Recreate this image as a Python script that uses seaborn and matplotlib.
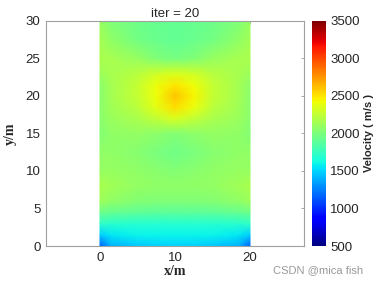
import numpy as np
import matplotlib
matplotlib.use("Agg")
import matplotlib.pyplot as plt
import seaborn as sns

# ============================
# DATA (velocity, m/s)
# ============================
X_NODES = [0, 1.5, 5, 7.5, 10, 12.5, 15, 18.5, 20]
Y_NODES = [0, 1.5, 3, 4.5, 6, 8, 10, 12.5, 15, 17, 18.5, 20, 21.5, 23, 25, 27.5, 30]

VEL = [
    [1150, 1400, 1470, 1490, 1490, 1490, 1470, 1400, 1150],  # y = 0
    [1480, 1560, 1590, 1600, 1600, 1600, 1590, 1560, 1480],  # y = 1.5
    [1720, 1700, 1690, 1690, 1690, 1690, 1690, 1700, 1720],  # y = 3
    [1950, 1920, 1900, 1890, 1890, 1890, 1900, 1920, 1950],  # y = 4.5
    [2120, 2080, 2030, 2020, 2020, 2020, 2030, 2080, 2120],  # y = 6
    [2170, 2130, 2090, 2080, 2080, 2080, 2090, 2130, 2170],  # y = 8
    [2100, 2100, 2080, 2050, 2030, 2050, 2080, 2100, 2100],  # y = 10
    [2080, 2080, 2040, 1990, 1960, 1990, 2040, 2080, 2080],  # y = 12.5
    [2030, 2080, 2090, 2060, 2030, 2060, 2090, 2080, 2030],  # y = 15
    [2050, 2110, 2170, 2250, 2330, 2250, 2170, 2110, 2050],  # y = 17
    [2050, 2130, 2230, 2380, 2520, 2400, 2230, 2130, 2050],  # y = 18.5
    [2050, 2150, 2260, 2420, 2600, 2450, 2260, 2150, 2050],  # y = 20
    [2070, 2150, 2260, 2400, 2500, 2420, 2260, 2150, 2070],  # y = 21.5
    [2120, 2160, 2220, 2300, 2330, 2300, 2220, 2160, 2120],  # y = 23
    [2170, 2160, 2100, 2020, 1980, 2020, 2100, 2160, 2170],  # y = 25
    [2150, 2080, 1970, 1930, 1910, 1930, 1970, 2080, 2150],  # y = 27.5
    [2100, 2020, 1950, 1920, 1910, 1920, 1950, 2020, 2100],  # y = 30
]

VMIN, VMAX = 500, 3500
CBAR_TICKS = [500, 1000, 1500, 2000, 2500, 3000, 3500]
X_TICKS = [0, 10, 20]
Y_TICKS = [0, 5, 10, 15, 20, 25, 30]
TITLE = "iter = 20"

# ============================
# PLOT
# ============================
sns.set_theme(style="white")
plt.rcParams["font.family"] = ["Liberation Sans", "DejaVu Sans"]

fig = plt.figure(figsize=(3.78, 2.84), dpi=100)
ax = fig.add_axes([0.1217, 0.1338, 0.6825, 0.7923])
cax = fig.add_axes([0.8254, 0.1338, 0.037, 0.7923])

cmap = matplotlib.colormaps["jet"]
xx, yy = np.meshgrid(X_NODES, Y_NODES)
mesh = ax.pcolormesh(xx, yy, np.array(VEL, dtype=float), cmap=cmap,
                     vmin=VMIN, vmax=VMAX, shading="gouraud")

ax.set_xlim(-7.2, 27.2)
ax.set_ylim(0, 30)
ax.set_xticks(X_TICKS)
ax.set_yticks(Y_TICKS)
ax.tick_params(direction="in", length=2.5, width=0.6, color="#999999",
               labelsize=9.5, labelcolor="#262626", top=True, right=True, pad=4)
for sp in ax.spines.values():
    sp.set_color("#a0a0a0")
    sp.set_linewidth(0.8)

ax.set_title(TITLE, fontsize=9.5, color="#262626", pad=3)
ax.set_xlabel("x/m", fontsize=10, fontweight="bold", family="Liberation Serif",
              labelpad=1)
ax.set_ylabel("y/m", fontsize=10, fontweight="bold", family="Liberation Serif",
              labelpad=6)

cb = fig.colorbar(mesh, cax=cax, ticks=CBAR_TICKS)
cb.outline.set_visible(False)
cax.tick_params(direction="in", length=0, labelsize=9.5, labelcolor="#262626", pad=3)
cb.set_label("Velocity ( m/s )", fontsize=8, fontweight="bold", labelpad=3)

fig.text(0.96, 0.05, "CSDN @mica fish", ha="right", va="center",
         fontsize=8, color="#999999")

fig.savefig("out.png", dpi=100)
plt.close(fig)
